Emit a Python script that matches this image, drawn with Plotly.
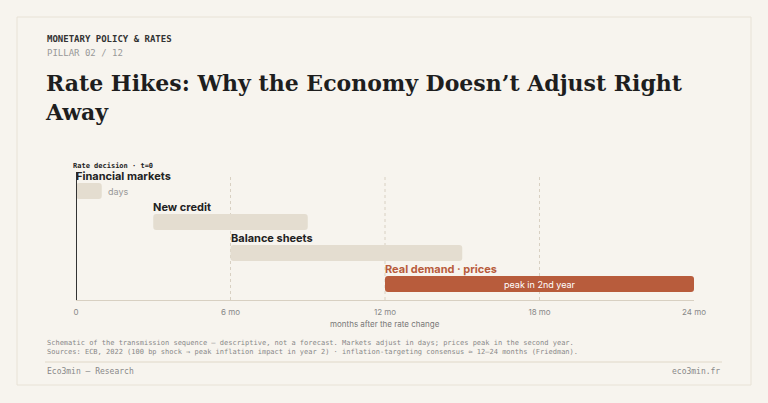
import plotly.graph_objects as go

W, H = 768, 403

stages = ["Financial markets", "New credit", "Balance sheets", "Real demand · prices"]
starts = [0, 3, 6, 12]
ends = [1, 9, 15, 24]
tick_vals = [0, 6, 12, 18, 24]
tick_text = ["0", "6 mo", "12 mo", "18 mo", "24 mo"]

BG = "#f7f4ee"
BEIGE = "#e4ddd0"
RUST = "#b85c3c"
INK = "#222222"
MONO = "DejaVu Sans Mono"
SANS = "Inter"

L, R, T, B = 76, 74, 175, 103


def fx(x):  # pixel -> paper coordinate (paper = plot area)
    return (x - L) / (W - L - R)


def fy(y):
    return 1 - (y - T) / (H - T - B)


colors = [BEIGE, BEIGE, BEIGE, RUST]
fig = go.Figure(
    go.Bar(
        y=list(range(len(stages))),
        x=[e - s for s, e in zip(starts, ends)],
        base=starts,
        orientation="h",
        width=0.52,
        marker=dict(color=colors, cornerradius=3, line=dict(width=0)),
        hoverinfo="skip",
    )
)

ann = []
for i, (s, name) in enumerate(zip(starts, stages)):
    ann.append(dict(x=s, y=i - 0.27, xref="x", yref="y", text=f"<b>{name}</b>", showarrow=False,
                    xanchor="left", yanchor="bottom", xshift=-2, yshift=-2,
                    font=dict(family=SANS, size=11, color=RUST if i == 3 else INK)))
ann.append(dict(x=ends[0], y=0, xref="x", yref="y", text="days", showarrow=False, xanchor="left",
                xshift=4, font=dict(family=SANS, size=9, color="#999")))
ann.append(dict(x=(starts[3] + ends[3]) / 2, y=3, xref="x", yref="y", text="peak in 2nd year",
                showarrow=False, font=dict(family=SANS, size=9, color="white")))
ann.append(dict(x=0, y=fy(172), xref="x", yref="paper", text="<b>Rate decision · t=0</b>", showarrow=False,
                xanchor="left", yanchor="bottom", xshift=-5, font=dict(family=MONO, size=7, color=INK)))
ann.append(dict(x=12, y=fy(331), xref="x", yref="paper", text="months after the rate change", showarrow=False,
                font=dict(family=SANS, size=8, color="#777")))

# header / footer
head = [
    dict(x=fx(45), y=fy(32), text="<b>MONETARY POLICY &amp; RATES</b>", font=dict(family=MONO, size=9, color="#333")),
    dict(x=fx(45), y=fy(46), text="PILLAR 02 / 12", font=dict(family=MONO, size=9, color="#999")),
    dict(x=fx(43), y=fy(68), text="<b>Rate Hikes: Why the Economy Doesn’t Adjust Right<br>Away</b>",
         font=dict(family="DejaVu Serif", size=22, color="#1e1e1e"), align="left", yanchor="top"),
    dict(x=fx(45), y=fy(349), text="Schematic of the transmission sequence — descriptive, not a forecast. Markets adjust in days; prices peak in the second year.",
         font=dict(family=MONO, size=7, color="#888")),
    dict(x=fx(45), y=fy(358), text="Sources: ECB, 2022 (100 bp shock → peak inflation impact in year 2) · inflation-targeting consensus ≈ 12–24 months (Friedman).",
         font=dict(family=MONO, size=7, color="#888")),
    dict(x=fx(45), y=fy(378), text="Eco3min — Research", font=dict(family=MONO, size=8, color="#888")),
    dict(x=fx(722), y=fy(378), text="eco3min.fr", xanchor="right", font=dict(family=MONO, size=8, color="#888")),
]
for a in head:
    a.update(xref="paper", yref="paper", showarrow=False)
    a.setdefault("xanchor", "left")
ann += head

shapes = [
    dict(type="rect", xref="paper", yref="paper", x0=fx(17), x1=fx(751), y0=fy(17), y1=fy(385),
         line=dict(color="#e8e2d6", width=1), fillcolor="rgba(0,0,0,0)", layer="below"),
    dict(type="line", xref="paper", yref="paper", x0=fx(45), x1=fx(722), y0=fy(362), y1=fy(362),
         line=dict(color="#e0d8c8", width=1)),
    dict(type="line", xref="x", yref="paper", x0=0, x1=0, y0=0, y1=fy(172),
         line=dict(color="#333", width=2)),
]
for v in [6, 12, 18]:
    shapes.append(dict(type="line", xref="x", yref="paper", x0=v, x1=v, y0=0, y1=1,
                       line=dict(color="#d8d0c2", width=1, dash="dot"), layer="below"))

fig.update_layout(
    width=W, height=H, paper_bgcolor=BG, plot_bgcolor=BG,
    margin=dict(l=L, r=R, t=T, b=B), showlegend=False,
    xaxis=dict(range=[0, 24], tickvals=tick_vals, ticktext=tick_text, showgrid=False, zeroline=False,
               showline=True, linecolor="#d8d0c2", ticks="", ticklabelstandoff=4,
               tickfont=dict(family=SANS, size=8, color="#888")),
    yaxis=dict(range=[3.516, -0.516], visible=False),
    annotations=ann, shapes=shapes,
)
fig.write_html("out.html", config={"displayModeBar": False})

# drop the default page margin so the figure fills the window
with open("out.html") as f:
    html = f.read()
html = html.replace("<body>", f'<body style="margin:0;background:{BG}">', 1)
with open("out.html", "w") as f:
    f.write(html)
